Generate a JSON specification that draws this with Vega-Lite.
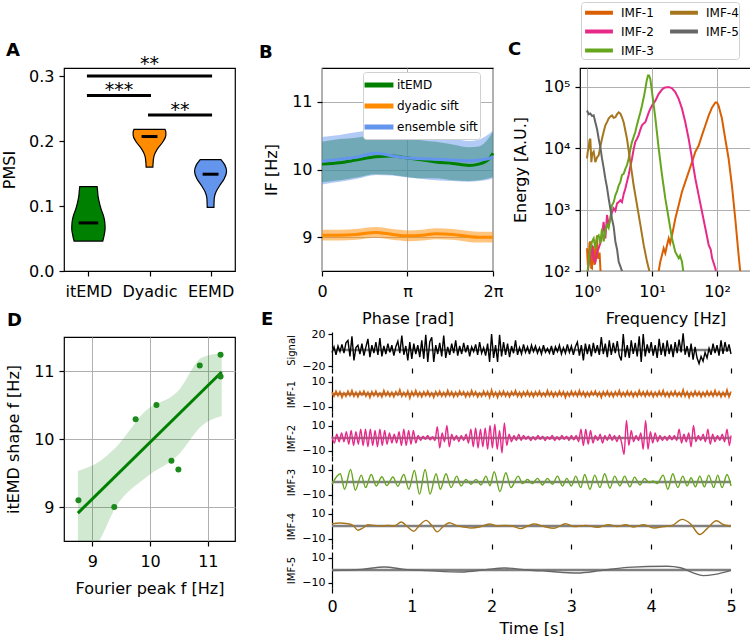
{
"$schema":"https://vega.github.io/schema/vega-lite/v6.json",
"padding":{"left":0,"top":0,"right":0,"bottom":0},
"background":"white",
"config":{
 "font":"DejaVu Sans",
 "view":{"stroke":"black","strokeWidth":1.2},
 "axis":{"labelFont":"DejaVu Sans","titleFont":"DejaVu Sans","labelColor":"black","titleColor":"black","tickColor":"black","domainColor":"black","labelFontSize":16,"titleFontSize":16,"titleFontWeight":"normal","tickSize":5,"tickWidth":1.2,"domainWidth":1.2,"gridColor":"#b0b0b0","gridWidth":1,"labelPadding":5,"titlePadding":6,"domain":false,"labelFlush":false,"labelOverlap":false},
 "title":{"anchor":"start","fontSize":18,"fontWeight":"bold","color":"black","baseline":"alphabetic","frame":"group"},
 "legend":{"labelFont":"DejaVu Sans"}
},
"datasets":{
"violin":[
{"g":"itEMD","y":0.046,"lo":0.765,"hi":1.235},{"g":"itEMD","y":0.055,"lo":0.743,"hi":1.257},{"g":"itEMD","y":0.065,"lo":0.727,"hi":1.273},{"g":"itEMD","y":0.075,"lo":0.732,"hi":1.268},{"g":"itEMD","y":0.085,"lo":0.754,"hi":1.246},{"g":"itEMD","y":0.095,"lo":0.792,"hi":1.208},{"g":"itEMD","y":0.105,"lo":0.82,"hi":1.18},{"g":"itEMD","y":0.115,"lo":0.842,"hi":1.158},{"g":"itEMD","y":0.125,"lo":0.852,"hi":1.148},{"g":"itEMD","y":0.13,"lo":0.858,"hi":1.142},
{"g":"Dyadic","y":0.16,"lo":1.945,"hi":2.055},{"g":"Dyadic","y":0.168,"lo":1.94,"hi":2.06},{"g":"Dyadic","y":0.178,"lo":1.923,"hi":2.077},{"g":"Dyadic","y":0.188,"lo":1.87,"hi":2.13},{"g":"Dyadic","y":0.199,"lo":1.78,"hi":2.22},{"g":"Dyadic","y":0.209,"lo":1.732,"hi":2.268},{"g":"Dyadic","y":0.214,"lo":1.732,"hi":2.268},{"g":"Dyadic","y":0.218,"lo":1.745,"hi":2.255},
{"g":"EEMD","y":0.098,"lo":2.945,"hi":3.055},{"g":"EEMD","y":0.112,"lo":2.94,"hi":3.06},{"g":"EEMD","y":0.122,"lo":2.91,"hi":3.09},{"g":"EEMD","y":0.132,"lo":2.847,"hi":3.153},{"g":"EEMD","y":0.142,"lo":2.776,"hi":3.224},{"g":"EEMD","y":0.153,"lo":2.738,"hi":3.262},{"g":"EEMD","y":0.163,"lo":2.765,"hi":3.235},{"g":"EEMD","y":0.1715,"lo":2.83,"hi":3.17}
],
"med":[{"x1":0.84,"x2":1.16,"y":0.074},{"x1":1.87,"x2":2.13,"y":0.207},{"x1":2.87,"x2":3.13,"y":0.149}],
"sig":[{"x1":1,"x2":3,"y":0.3,"xm":2,"ys":0.309,"lab":"**"},{"x1":1,"x2":2,"y":0.27,"xm":1.5,"ys":0.269,"lab":"***"},{"x1":2,"x2":3,"y":0.24,"xm":2.5,"ys":0.238,"lab":"**"}],
"phase":[
{"p":0,"m":"itEMD","v":10.08,"lo":9.81,"hi":10.41},{"p":0.65,"m":"itEMD","v":10.1,"lo":9.84,"hi":10.45},{"p":1.25,"m":"itEMD","v":10.14,"lo":9.88,"hi":10.47},{"p":1.98,"m":"itEMD","v":10.19,"lo":9.93,"hi":10.51},{"p":2.6,"m":"itEMD","v":10.2,"lo":9.92,"hi":10.49},{"p":3.14,"m":"itEMD","v":10.17,"lo":9.89,"hi":10.46},{"p":3.7,"m":"itEMD","v":10.14,"lo":9.87,"hi":10.43},{"p":4.18,"m":"itEMD","v":10.11,"lo":9.87,"hi":10.41},{"p":4.8,"m":"itEMD","v":10.09,"lo":9.84,"hi":10.37},{"p":5.4,"m":"itEMD","v":10.06,"lo":9.83,"hi":10.33},{"p":5.76,"m":"itEMD","v":10.08,"lo":9.84,"hi":10.34},{"p":6.12,"m":"itEMD","v":10.15,"lo":9.87,"hi":10.46},{"p":6.2832,"m":"itEMD","v":10.24,"lo":9.89,"hi":10.56},
{"p":0,"m":"ensemble sift","v":10.12,"lo":9.78,"hi":10.48},{"p":0.65,"m":"ensemble sift","v":10.15,"lo":9.82,"hi":10.51},{"p":1.25,"m":"ensemble sift","v":10.18,"lo":9.86,"hi":10.55},{"p":1.98,"m":"ensemble sift","v":10.24,"lo":9.92,"hi":10.58},{"p":2.6,"m":"ensemble sift","v":10.2,"lo":9.91,"hi":10.56},{"p":3.14,"m":"ensemble sift","v":10.17,"lo":9.88,"hi":10.53},{"p":3.7,"m":"ensemble sift","v":10.16,"lo":9.86,"hi":10.52},{"p":4.18,"m":"ensemble sift","v":10.15,"lo":9.84,"hi":10.5},{"p":4.8,"m":"ensemble sift","v":10.14,"lo":9.83,"hi":10.46},{"p":5.4,"m":"ensemble sift","v":10.13,"lo":9.82,"hi":10.42},{"p":5.76,"m":"ensemble sift","v":10.14,"lo":9.83,"hi":10.44},{"p":6.12,"m":"ensemble sift","v":10.16,"lo":9.85,"hi":10.52},{"p":6.2832,"m":"ensemble sift","v":10.19,"lo":9.87,"hi":10.58},
{"p":0,"m":"dyadic sift","v":9.03,"lo":8.95,"hi":9.11},{"p":0.65,"m":"dyadic sift","v":9.03,"lo":8.95,"hi":9.11},{"p":1.25,"m":"dyadic sift","v":9.04,"lo":8.96,"hi":9.12},{"p":1.98,"m":"dyadic sift","v":9.07,"lo":8.99,"hi":9.15},{"p":2.6,"m":"dyadic sift","v":9.04,"lo":8.96,"hi":9.12},{"p":3.14,"m":"dyadic sift","v":9.02,"lo":8.94,"hi":9.1},{"p":3.7,"m":"dyadic sift","v":9.03,"lo":8.95,"hi":9.11},{"p":4.18,"m":"dyadic sift","v":9.05,"lo":8.97,"hi":9.13},{"p":4.8,"m":"dyadic sift","v":9.04,"lo":8.96,"hi":9.12},{"p":5.4,"m":"dyadic sift","v":9.01,"lo":8.93,"hi":9.09},{"p":5.76,"m":"dyadic sift","v":9.0,"lo":8.92,"hi":9.08},{"p":6.12,"m":"dyadic sift","v":9.0,"lo":8.92,"hi":9.08},{"p":6.2832,"m":"dyadic sift","v":9.0,"lo":8.92,"hi":9.08}
],
"spec":[
{"k":"IMF-1","f":1.0,"e":234},{"k":"IMF-1","f":1.03,"e":126},{"k":"IMF-1","f":1.061,"e":141},{"k":"IMF-1","f":1.09,"e":282},{"k":"IMF-1","f":1.125,"e":302},{"k":"IMF-1","f":1.16,"e":112},{"k":"IMF-1","f":1.194,"e":110},{"k":"IMF-1","f":1.23,"e":251},{"k":"IMF-1","f":1.266,"e":234},{"k":"IMF-1","f":1.3,"e":126},{"k":"IMF-1","f":1.343,"e":141},{"k":"IMF-1","f":1.38,"e":282},{"k":"IMF-1","f":1.425,"e":380},{"k":"IMF-1","f":1.47,"e":158},{"k":"IMF-1","f":1.512,"e":182},{"k":"IMF-1","f":1.56,"e":200},{"k":"IMF-1","f":1.605,"e":110},{"k":"IMF-1","f":1.66,"e":63},{"k":"IMF-1","f":1.8,"e":32},{"k":"IMF-1","f":12.0,"e":40},{"k":"IMF-1","f":12.67,"e":100},{"k":"IMF-1","f":13.4,"e":141},{"k":"IMF-1","f":14.25,"e":182},{"k":"IMF-1","f":15.1,"e":234},{"k":"IMF-1","f":16.0,"e":195},{"k":"IMF-1","f":17.0,"e":263},{"k":"IMF-1","f":18.05,"e":339},{"k":"IMF-1","f":19.0,"e":282},{"k":"IMF-1","f":20.3,"e":380},{"k":"IMF-1","f":22.8,"e":708},{"k":"IMF-1","f":25.7,"e":1175},{"k":"IMF-1","f":28.9,"e":1950},{"k":"IMF-1","f":32.5,"e":2818},{"k":"IMF-1","f":36.6,"e":4074},{"k":"IMF-1","f":41.2,"e":5888},{"k":"IMF-1","f":46.4,"e":8710},{"k":"IMF-1","f":52.2,"e":10960},{"k":"IMF-1","f":58.8,"e":16220},{"k":"IMF-1","f":66.2,"e":23440},{"k":"IMF-1","f":74.5,"e":33880},{"k":"IMF-1","f":83.9,"e":45710},{"k":"IMF-1","f":94.4,"e":54950},{"k":"IMF-1","f":100,"e":54950},{"k":"IMF-1","f":105.5,"e":48980},{"k":"IMF-1","f":118.9,"e":30200},{"k":"IMF-1","f":133.7,"e":14130},{"k":"IMF-1","f":150.5,"e":6761},{"k":"IMF-1","f":169.4,"e":2455},{"k":"IMF-1","f":190.7,"e":708},{"k":"IMF-1","f":214.6,"e":182},{"k":"IMF-1","f":227,"e":100},{"k":"IMF-1","f":235,"e":63},
{"k":"IMF-2","f":1.0,"e":79},{"k":"IMF-2","f":1.06,"e":126},{"k":"IMF-2","f":1.125,"e":182},{"k":"IMF-2","f":1.194,"e":263},{"k":"IMF-2","f":1.266,"e":158},{"k":"IMF-2","f":1.343,"e":141},{"k":"IMF-2","f":1.43,"e":200},{"k":"IMF-2","f":1.512,"e":234},{"k":"IMF-2","f":1.6,"e":282},{"k":"IMF-2","f":1.7,"e":380},{"k":"IMF-2","f":1.8,"e":631},{"k":"IMF-2","f":1.915,"e":339},{"k":"IMF-2","f":2.03,"e":813},{"k":"IMF-2","f":2.15,"e":562},{"k":"IMF-2","f":2.28,"e":708},{"k":"IMF-2","f":2.42,"e":891},{"k":"IMF-2","f":2.57,"e":1047},{"k":"IMF-2","f":2.73,"e":955},{"k":"IMF-2","f":2.9,"e":1259},{"k":"IMF-2","f":3.07,"e":1318},{"k":"IMF-2","f":3.26,"e":1413},{"k":"IMF-2","f":3.45,"e":1318},{"k":"IMF-2","f":3.66,"e":1778},{"k":"IMF-2","f":3.89,"e":2188},{"k":"IMF-2","f":4.12,"e":2818},{"k":"IMF-2","f":4.37,"e":3631},{"k":"IMF-2","f":4.64,"e":5012},{"k":"IMF-2","f":4.92,"e":6761},{"k":"IMF-2","f":5.22,"e":9550},{"k":"IMF-2","f":5.53,"e":12590},{"k":"IMF-2","f":5.88,"e":14130},{"k":"IMF-2","f":6.23,"e":16220},{"k":"IMF-2","f":6.62,"e":19950},{"k":"IMF-2","f":7.01,"e":23440},{"k":"IMF-2","f":7.45,"e":25120},{"k":"IMF-2","f":7.89,"e":26300},{"k":"IMF-2","f":8.39,"e":31620},{"k":"IMF-2","f":8.91,"e":38020},{"k":"IMF-2","f":9.43,"e":43650},{"k":"IMF-2","f":10.0,"e":48980},{"k":"IMF-2","f":10.6,"e":53700},{"k":"IMF-2","f":11.26,"e":58880},{"k":"IMF-2","f":12.67,"e":75860},{"k":"IMF-2","f":14.25,"e":89130},{"k":"IMF-2","f":15.5,"e":95500},{"k":"IMF-2","f":17.0,"e":97720},{"k":"IMF-2","f":18.5,"e":97720},{"k":"IMF-2","f":20.3,"e":93330},{"k":"IMF-2","f":22.8,"e":81280},{"k":"IMF-2","f":25.7,"e":63100},{"k":"IMF-2","f":28.9,"e":43650},{"k":"IMF-2","f":32.5,"e":26300},{"k":"IMF-2","f":36.6,"e":14130},{"k":"IMF-2","f":41.2,"e":6761},{"k":"IMF-2","f":46.4,"e":3162},{"k":"IMF-2","f":52.2,"e":1698},{"k":"IMF-2","f":58.8,"e":912},{"k":"IMF-2","f":66.2,"e":490},{"k":"IMF-2","f":74.5,"e":263},{"k":"IMF-2","f":80,"e":224},{"k":"IMF-2","f":83.9,"e":162},{"k":"IMF-2","f":94.4,"e":110},{"k":"IMF-2","f":100,"e":79},
{"k":"IMF-3","f":1.0,"e":79},{"k":"IMF-3","f":1.1,"e":200},{"k":"IMF-3","f":1.194,"e":302},{"k":"IMF-3","f":1.266,"e":339},{"k":"IMF-3","f":1.343,"e":234},{"k":"IMF-3","f":1.43,"e":355},{"k":"IMF-3","f":1.512,"e":380},{"k":"IMF-3","f":1.6,"e":282},{"k":"IMF-3","f":1.7,"e":490},{"k":"IMF-3","f":1.8,"e":302},{"k":"IMF-3","f":1.915,"e":447},{"k":"IMF-3","f":2.03,"e":562},{"k":"IMF-3","f":2.15,"e":501},{"k":"IMF-3","f":2.28,"e":708},{"k":"IMF-3","f":2.42,"e":1175},{"k":"IMF-3","f":2.57,"e":1318},{"k":"IMF-3","f":2.73,"e":1698},{"k":"IMF-3","f":2.9,"e":1995},{"k":"IMF-3","f":3.07,"e":2455},{"k":"IMF-3","f":3.26,"e":2818},{"k":"IMF-3","f":3.45,"e":3631},{"k":"IMF-3","f":3.66,"e":3802},{"k":"IMF-3","f":3.89,"e":4571},{"k":"IMF-3","f":4.12,"e":5248},{"k":"IMF-3","f":4.37,"e":6761},{"k":"IMF-3","f":4.64,"e":9550},{"k":"IMF-3","f":4.92,"e":12590},{"k":"IMF-3","f":5.22,"e":15140},{"k":"IMF-3","f":5.53,"e":18200},{"k":"IMF-3","f":5.88,"e":23990},{"k":"IMF-3","f":6.23,"e":30200},{"k":"IMF-3","f":6.62,"e":38020},{"k":"IMF-3","f":7.01,"e":48980},{"k":"IMF-3","f":7.45,"e":66070},{"k":"IMF-3","f":7.89,"e":91200},{"k":"IMF-3","f":8.3,"e":125900},{"k":"IMF-3","f":8.67,"e":151400},{"k":"IMF-3","f":9.0,"e":151400},{"k":"IMF-3","f":9.43,"e":131800},{"k":"IMF-3","f":10.0,"e":81280},{"k":"IMF-3","f":10.6,"e":50120},{"k":"IMF-3","f":11.26,"e":30200},{"k":"IMF-3","f":12.67,"e":9772},{"k":"IMF-3","f":14.25,"e":3631},{"k":"IMF-3","f":16.0,"e":1514},{"k":"IMF-3","f":18.05,"e":708},{"k":"IMF-3","f":20.3,"e":339},{"k":"IMF-3","f":22.8,"e":204},{"k":"IMF-3","f":25.7,"e":162},{"k":"IMF-3","f":27.0,"e":178},{"k":"IMF-3","f":28.9,"e":141},{"k":"IMF-3","f":30.6,"e":89},
{"k":"IMF-4","f":1.0,"e":6761},{"k":"IMF-4","f":1.03,"e":8913},{"k":"IMF-4","f":1.061,"e":9772},{"k":"IMF-4","f":1.09,"e":13180},{"k":"IMF-4","f":1.125,"e":14130},{"k":"IMF-4","f":1.166,"e":5888},{"k":"IMF-4","f":1.2,"e":7943},{"k":"IMF-4","f":1.266,"e":8710},{"k":"IMF-4","f":1.343,"e":5888},{"k":"IMF-4","f":1.43,"e":7079},{"k":"IMF-4","f":1.512,"e":7586},{"k":"IMF-4","f":1.6,"e":10470},{"k":"IMF-4","f":1.7,"e":14130},{"k":"IMF-4","f":1.8,"e":18200},{"k":"IMF-4","f":1.915,"e":23440},{"k":"IMF-4","f":2.03,"e":26300},{"k":"IMF-4","f":2.15,"e":30200},{"k":"IMF-4","f":2.28,"e":32360},{"k":"IMF-4","f":2.42,"e":33880},{"k":"IMF-4","f":2.57,"e":30900},{"k":"IMF-4","f":2.73,"e":31620},{"k":"IMF-4","f":2.9,"e":35480},{"k":"IMF-4","f":3.07,"e":38020},{"k":"IMF-4","f":3.26,"e":36310},{"k":"IMF-4","f":3.45,"e":31620},{"k":"IMF-4","f":3.66,"e":26300},{"k":"IMF-4","f":4.12,"e":14130},{"k":"IMF-4","f":4.64,"e":5888},{"k":"IMF-4","f":5.22,"e":2455},{"k":"IMF-4","f":5.88,"e":1175},{"k":"IMF-4","f":6.62,"e":562},{"k":"IMF-4","f":7.45,"e":263},{"k":"IMF-4","f":8.39,"e":141},{"k":"IMF-4","f":9.1,"e":100},{"k":"IMF-4","f":9.8,"e":71},
{"k":"IMF-5","f":1.0,"e":40740},{"k":"IMF-5","f":1.06,"e":35480},{"k":"IMF-5","f":1.125,"e":36310},{"k":"IMF-5","f":1.2,"e":33110},{"k":"IMF-5","f":1.266,"e":33880},{"k":"IMF-5","f":1.343,"e":26300},{"k":"IMF-5","f":1.43,"e":19950},{"k":"IMF-5","f":1.512,"e":14130},{"k":"IMF-5","f":1.6,"e":10470},{"k":"IMF-5","f":1.7,"e":6761},{"k":"IMF-5","f":1.8,"e":4786},{"k":"IMF-5","f":1.915,"e":3162},{"k":"IMF-5","f":2.03,"e":2291},{"k":"IMF-5","f":2.15,"e":1514},{"k":"IMF-5","f":2.28,"e":1047},{"k":"IMF-5","f":2.42,"e":708},{"k":"IMF-5","f":2.57,"e":525},{"k":"IMF-5","f":2.73,"e":302},{"k":"IMF-5","f":2.9,"e":224},{"k":"IMF-5","f":3.07,"e":141},{"k":"IMF-5","f":3.25,"e":120},{"k":"IMF-5","f":3.45,"e":100},{"k":"IMF-5","f":3.66,"e":79}
],
"scat":[{"x":8.76,"y":9.1},{"x":9.38,"y":9.0},{"x":9.75,"y":10.29},{"x":10.11,"y":10.5},{"x":10.37,"y":9.68},{"x":10.49,"y":9.55},{"x":10.86,"y":11.08},{"x":11.22,"y":11.24},{"x":11.22,"y":10.92}],
"fit":[{"x":8.75,"y":8.91},{"x":11.24,"y":10.985}],
"band":[{"x":8.75,"lo":8.2,"hi":9.53},{"x":9.11,"lo":8.49,"hi":9.66},{"x":9.4,"lo":8.99,"hi":9.87},{"x":9.92,"lo":9.43,"hi":10.41},{"x":10.49,"lo":9.77,"hi":10.71},{"x":10.9,"lo":10.2,"hi":11.2},{"x":11.24,"lo":10.34,"hi":11.26}],
"ts25":[
{"t":0,"s":-3,"i":1.5},{"t":0.025,"s":4,"i":-2},{"t":0.05,"s":-6,"i":2.5},{"t":0.075,"s":5,"i":-1.5},{"t":0.1,"s":-2,"i":2},{"t":0.125,"s":7,"i":-3},{"t":0.15,"s":-4,"i":1},{"t":0.175,"s":9,"i":-2},
{"t":0.2,"s":12,"i":2.5},{"t":0.225,"s":-8,"i":-1.5},{"t":0.25,"s":17,"i":3},{"t":0.275,"s":-13,"i":-2},{"t":0.3,"s":3,"i":1.5},{"t":0.325,"s":6,"i":-2.5},{"t":0.35,"s":-5,"i":2},{"t":0.375,"s":8,"i":-1},
{"t":0.4,"s":-7,"i":2.5},{"t":0.425,"s":4,"i":-2},{"t":0.45,"s":14,"i":1.5},{"t":0.475,"s":-9,"i":-3},{"t":0.5,"s":6,"i":2},{"t":0.525,"s":-4,"i":-1.5},{"t":0.55,"s":10,"i":2.5},{"t":0.575,"s":-6,"i":-2},
{"t":0.6,"s":15,"i":1},{"t":0.625,"s":-8,"i":-2.5},{"t":0.65,"s":5,"i":3},{"t":0.675,"s":-5,"i":-1.5},{"t":0.7,"s":8,"i":2},{"t":0.725,"s":-3,"i":-2},{"t":0.75,"s":6,"i":1.5},{"t":0.775,"s":-7,"i":-2.5},
{"t":0.8,"s":4,"i":2},{"t":0.825,"s":11,"i":-1},{"t":0.85,"s":-4,"i":3.5},{"t":0.875,"s":18,"i":-2},{"t":0.9,"s":-6,"i":1.5},{"t":0.925,"s":5,"i":-2},{"t":0.95,"s":-13,"i":2.5},{"t":0.975,"s":10,"i":-3.5},
{"t":1.0,"s":-11,"i":2},{"t":1.025,"s":8,"i":-1.5},{"t":1.05,"s":-5,"i":3},{"t":1.075,"s":6,"i":-2},{"t":1.1,"s":-9,"i":1.5},{"t":1.125,"s":12,"i":-2.5},{"t":1.15,"s":-11,"i":2},{"t":1.175,"s":19,"i":-1.5},
{"t":1.2,"s":-15,"i":2.5},{"t":1.225,"s":10,"i":-2},{"t":1.25,"s":16,"i":1},{"t":1.275,"s":-15,"i":-3},{"t":1.3,"s":6,"i":2},{"t":1.325,"s":-5,"i":-1.5},{"t":1.35,"s":9,"i":2.5},{"t":1.375,"s":-8,"i":-2},
{"t":1.4,"s":18,"i":1.5},{"t":1.425,"s":-10,"i":-2},{"t":1.45,"s":4,"i":3},{"t":1.475,"s":-6,"i":-1.5},{"t":1.5,"s":8,"i":2},{"t":1.525,"s":-4,"i":-2.5},{"t":1.55,"s":12,"i":1.5},{"t":1.575,"s":-7,"i":-2},
{"t":1.6,"s":5,"i":2.5},{"t":1.625,"s":-5,"i":-1},{"t":1.65,"s":9,"i":2},{"t":1.675,"s":-3,"i":-2.5},{"t":1.7,"s":6,"i":1.5},{"t":1.725,"s":-8,"i":-2},{"t":1.75,"s":4,"i":3},{"t":1.775,"s":-2,"i":-1.5},
{"t":1.8,"s":7,"i":2},{"t":1.825,"s":-6,"i":-2.5},{"t":1.85,"s":10,"i":1},{"t":1.875,"s":-4,"i":-2},{"t":1.9,"s":3,"i":2.5},{"t":1.925,"s":-7,"i":-1.5},{"t":1.95,"s":8,"i":2},{"t":1.975,"s":-15,"i":-3},
{"t":2.0,"s":20,"i":3.5},{"t":2.025,"s":-10,"i":-2},{"t":2.05,"s":6,"i":1.5},{"t":2.075,"s":-15,"i":-3},{"t":2.1,"s":19,"i":2},{"t":2.125,"s":-8,"i":-1.5},{"t":2.15,"s":10,"i":2.5},{"t":2.175,"s":-6,"i":-2},
{"t":2.2,"s":8,"i":1.5},{"t":2.225,"s":-9,"i":-2.5},{"t":2.25,"s":5,"i":2},{"t":2.275,"s":-4,"i":-1},{"t":2.3,"s":12,"i":3},{"t":2.325,"s":-6,"i":-2},{"t":2.35,"s":3,"i":1.5},{"t":2.375,"s":-5,"i":-2.5},
{"t":2.4,"s":7,"i":2},{"t":2.425,"s":-3,"i":-1.5},{"t":2.45,"s":4,"i":2.5},{"t":2.475,"s":-5,"i":-2},{"t":2.5,"s":6,"i":1.5},{"t":2.525,"s":-2,"i":-2.5},{"t":2.55,"s":5,"i":2},{"t":2.575,"s":-4,"i":-1.5},
{"t":2.6,"s":3,"i":2.5},{"t":2.625,"s":-5,"i":-2},{"t":2.65,"s":6,"i":1},{"t":2.675,"s":-3,"i":-2},{"t":2.7,"s":2,"i":3},{"t":2.725,"s":-4,"i":-1.5},{"t":2.75,"s":5,"i":2},{"t":2.775,"s":-6,"i":-2.5},
{"t":2.8,"s":4,"i":1.5},{"t":2.825,"s":-2,"i":-2},{"t":2.85,"s":6,"i":2.5},{"t":2.875,"s":-5,"i":-1.5},{"t":2.9,"s":3,"i":2},{"t":2.925,"s":-4,"i":-3},{"t":2.95,"s":7,"i":1.5},{"t":2.975,"s":-3,"i":-2},
{"t":3.0,"s":5,"i":2.5},{"t":3.025,"s":-6,"i":-1.5},{"t":3.05,"s":4,"i":2},{"t":3.075,"s":10,"i":-2},{"t":3.1,"s":-7,"i":3},{"t":3.125,"s":6,"i":-1.5},{"t":3.15,"s":-13,"i":2},{"t":3.175,"s":8,"i":-2.5},
{"t":3.2,"s":-5,"i":1.5},{"t":3.225,"s":7,"i":-2},{"t":3.25,"s":-8,"i":2},{"t":3.275,"s":9,"i":-1},{"t":3.3,"s":-4,"i":2.5},{"t":3.325,"s":6,"i":-2},{"t":3.35,"s":-6,"i":1.5},{"t":3.375,"s":16,"i":-3},
{"t":3.4,"s":-5,"i":2},{"t":3.425,"s":8,"i":-1.5},{"t":3.45,"s":-9,"i":2.5},{"t":3.475,"s":12,"i":-2},{"t":3.5,"s":-6,"i":1.5},{"t":3.525,"s":9,"i":-2.5},{"t":3.55,"s":-4,"i":2},{"t":3.575,"s":11,"i":-1.5},
{"t":3.6,"s":-7,"i":3},{"t":3.625,"s":-13,"i":-2},{"t":3.65,"s":20,"i":1.5},{"t":3.675,"s":-9,"i":-2},{"t":3.7,"s":6,"i":2.5},{"t":3.725,"s":-10,"i":-1.5},{"t":3.75,"s":12,"i":2},{"t":3.775,"s":-5,"i":-2.5},
{"t":3.8,"s":9,"i":1.5},{"t":3.825,"s":-8,"i":-2},{"t":3.85,"s":17,"i":3},{"t":3.875,"s":-15,"i":-1.5},{"t":3.9,"s":20,"i":2},{"t":3.925,"s":-8,"i":-2},{"t":3.95,"s":7,"i":2.5},{"t":3.975,"s":-4,"i":-1.5},
{"t":4.0,"s":10,"i":2},{"t":4.025,"s":-7,"i":-2.5},{"t":4.05,"s":6,"i":1.5},{"t":4.075,"s":-10,"i":-2},{"t":4.1,"s":14,"i":2.5},{"t":4.125,"s":-6,"i":-1.5},{"t":4.15,"s":9,"i":3},{"t":4.175,"s":-8,"i":-2},
{"t":4.2,"s":12,"i":1.5},{"t":4.225,"s":-5,"i":-2.5},{"t":4.25,"s":7,"i":2},{"t":4.275,"s":-9,"i":-1.5},{"t":4.3,"s":10,"i":2.5},{"t":4.325,"s":-4,"i":-2},{"t":4.35,"s":13,"i":1.5},{"t":4.375,"s":-3,"i":-2},
{"t":4.4,"s":21,"i":3.5},{"t":4.425,"s":-6,"i":-2},{"t":4.45,"s":5,"i":2},{"t":4.475,"s":-9,"i":-3},{"t":4.5,"s":8,"i":1.5},{"t":4.525,"s":-12,"i":-2},{"t":4.55,"s":4,"i":2.5},{"t":4.575,"s":-10,"i":-1.5},
{"t":4.6,"s":-17,"i":2},{"t":4.625,"s":-8,"i":-2.5},{"t":4.65,"s":-14,"i":1.5},{"t":4.675,"s":-3,"i":-2},{"t":4.7,"s":-10,"i":2.5},{"t":4.725,"s":2,"i":-1.5},{"t":4.75,"s":-6,"i":2},{"t":4.775,"s":8,"i":-2},
{"t":4.8,"s":-4,"i":3},{"t":4.825,"s":6,"i":-1.5},{"t":4.85,"s":-7,"i":2},{"t":4.875,"s":12,"i":-2.5},{"t":4.9,"s":-5,"i":1.5},{"t":4.925,"s":10,"i":-2},{"t":4.95,"s":-2,"i":3.5},{"t":4.975,"s":7,"i":-2.5},
{"t":5.0,"s":-5,"i":2}
],
"imf2":[
{"t":0,"v":1},{"t":0.03,"v":-4},{"t":0.06,"v":3},{"t":0.09,"v":-3},{"t":0.12,"v":4},{"t":0.15,"v":-3},{"t":0.18,"v":5},{"t":0.21,"v":-5},{"t":0.24,"v":6},{"t":0.27,"v":-6},{"t":0.3,"v":5},{"t":0.33,"v":-5},{"t":0.36,"v":7},{"t":0.39,"v":-6},{"t":0.42,"v":7},{"t":0.45,"v":-7},{"t":0.48,"v":7},{"t":0.51,"v":-6},{"t":0.54,"v":6},{"t":0.57,"v":-7},{"t":0.6,"v":7},{"t":0.63,"v":-6},{"t":0.66,"v":6},{"t":0.69,"v":-5},{"t":0.72,"v":4},{"t":0.75,"v":-4},{"t":0.78,"v":3},{"t":0.81,"v":-4},{"t":0.84,"v":5},{"t":0.87,"v":-6},{"t":0.9,"v":7},{"t":0.93,"v":-6},{"t":0.96,"v":6},{"t":0.99,"v":-5},{"t":1.02,"v":6},{"t":1.05,"v":-4},{"t":1.08,"v":2},{"t":1.11,"v":-2},{"t":1.14,"v":1.5},{"t":1.17,"v":-1},{"t":1.2,"v":2},{"t":1.23,"v":-1.5},{"t":1.26,"v":1},{"t":1.29,"v":-2},{"t":1.32,"v":9},{"t":1.35,"v":-8},{"t":1.38,"v":4},{"t":1.41,"v":-3},{"t":1.44,"v":10},{"t":1.47,"v":-7},{"t":1.5,"v":3},{"t":1.53,"v":-2},{"t":1.56,"v":2},{"t":1.59,"v":-3},{"t":1.62,"v":2},{"t":1.65,"v":-2},{"t":1.68,"v":3},{"t":1.71,"v":-4},{"t":1.74,"v":7},{"t":1.77,"v":-7},{"t":1.8,"v":8},{"t":1.83,"v":-8},{"t":1.86,"v":7},{"t":1.89,"v":-7},{"t":1.92,"v":8},{"t":1.95,"v":-9},{"t":1.98,"v":10},{"t":2.01,"v":-8},{"t":2.04,"v":11},{"t":2.07,"v":-9},{"t":2.1,"v":6},{"t":2.13,"v":-12},{"t":2.16,"v":12},{"t":2.19,"v":-6},{"t":2.22,"v":3},{"t":2.25,"v":-3},{"t":2.28,"v":2},{"t":2.31,"v":-2},{"t":2.34,"v":3},{"t":2.37,"v":-2},{"t":2.4,"v":2},{"t":2.43,"v":-1},{"t":2.46,"v":1.5},{"t":2.49,"v":-2},{"t":2.52,"v":1},{"t":2.55,"v":-1.5},{"t":2.58,"v":2},{"t":2.61,"v":-1},{"t":2.64,"v":1.5},{"t":2.67,"v":-2},{"t":2.7,"v":1},{"t":2.73,"v":-1},{"t":2.76,"v":2},{"t":2.79,"v":-2},{"t":2.82,"v":1},{"t":2.85,"v":-1.5},{"t":2.88,"v":2},{"t":2.91,"v":-1},{"t":2.94,"v":1.5},{"t":2.97,"v":-2},{"t":3.0,"v":2},{"t":3.03,"v":-1.5},{"t":3.06,"v":2},{"t":3.09,"v":-3},{"t":3.12,"v":7},{"t":3.15,"v":-6},{"t":3.18,"v":7},{"t":3.21,"v":-5},{"t":3.24,"v":6},{"t":3.27,"v":-4},{"t":3.3,"v":2},{"t":3.33,"v":-2},{"t":3.36,"v":3},{"t":3.39,"v":-4},{"t":3.42,"v":2},{"t":3.45,"v":-2},{"t":3.48,"v":3},{"t":3.51,"v":-2},{"t":3.54,"v":2},{"t":3.57,"v":-3},{"t":3.6,"v":2},{"t":3.63,"v":-4},{"t":3.66,"v":-13},{"t":3.69,"v":14},{"t":3.72,"v":-6},{"t":3.75,"v":6},{"t":3.78,"v":-3},{"t":3.81,"v":2},{"t":3.84,"v":-2},{"t":3.87,"v":4},{"t":3.9,"v":-9},{"t":3.93,"v":14},{"t":3.96,"v":-9},{"t":3.99,"v":5},{"t":4.02,"v":-4},{"t":4.05,"v":4},{"t":4.08,"v":-3},{"t":4.11,"v":2},{"t":4.14,"v":-2},{"t":4.17,"v":1.5},{"t":4.2,"v":-2},{"t":4.23,"v":2},{"t":4.26,"v":-1.5},{"t":4.29,"v":2},{"t":4.32,"v":-2},{"t":4.35,"v":7},{"t":4.38,"v":-4},{"t":4.41,"v":3},{"t":4.44,"v":-3},{"t":4.47,"v":4},{"t":4.5,"v":-7},{"t":4.53,"v":10},{"t":4.56,"v":-3},{"t":4.59,"v":2},{"t":4.62,"v":-2},{"t":4.65,"v":3},{"t":4.68,"v":-3},{"t":4.71,"v":7},{"t":4.74,"v":-5},{"t":4.77,"v":3},{"t":4.8,"v":-3},{"t":4.83,"v":2},{"t":4.86,"v":-2},{"t":4.89,"v":3},{"t":4.92,"v":-3},{"t":4.95,"v":7},{"t":4.98,"v":-6},{"t":5.0,"v":2}
],
"imf3":[
{"t":0,"v":-1.8},{"t":0.104,"v":6.6},{"t":0.158,"v":-5.8},{"t":0.233,"v":10},{"t":0.292,"v":-6.6},{"t":0.367,"v":5.5},{"t":0.421,"v":-4.5},{"t":0.492,"v":6},{"t":0.554,"v":-3.2},{"t":0.625,"v":4.2},{"t":0.688,"v":-2.9},{"t":0.763,"v":4},{"t":0.825,"v":-3.4},{"t":0.9,"v":6},{"t":0.963,"v":-5.8},{"t":1.033,"v":9.2},{"t":1.096,"v":-9.7},{"t":1.167,"v":10},{"t":1.229,"v":-9.7},{"t":1.304,"v":6.6},{"t":1.358,"v":-5.8},{"t":1.429,"v":6.6},{"t":1.492,"v":-4.5},{"t":1.563,"v":4.7},{"t":1.617,"v":-3.2},{"t":1.679,"v":2.1},{"t":1.742,"v":-1.8},{"t":1.804,"v":2.1},{"t":1.867,"v":-2.4},{"t":1.929,"v":4.7},{"t":1.979,"v":-3},{"t":2.033,"v":8.2},{"t":2.104,"v":-7.6},{"t":2.179,"v":7.4},{"t":2.242,"v":-4.5},{"t":2.333,"v":4.7},{"t":2.388,"v":-1.3},{"t":2.45,"v":2.1},{"t":2.51,"v":-1.3},{"t":2.575,"v":2.9},{"t":2.638,"v":-2.4},{"t":2.7,"v":2.9},{"t":2.763,"v":-1.8},{"t":2.825,"v":4.7},{"t":2.888,"v":-3.2},{"t":2.942,"v":2.9},{"t":3.0,"v":-3.2},{"t":3.054,"v":4.7},{"t":3.117,"v":-4.5},{"t":3.167,"v":6},{"t":3.233,"v":-5.8},{"t":3.292,"v":5.5},{"t":3.358,"v":-4.5},{"t":3.417,"v":6.6},{"t":3.483,"v":-5},{"t":3.542,"v":4.7},{"t":3.608,"v":-3.2},{"t":3.667,"v":4.7},{"t":3.733,"v":-3.9},{"t":3.792,"v":3.9},{"t":3.858,"v":-2.4},{"t":3.917,"v":2.9},{"t":3.971,"v":-0.5},{"t":4.025,"v":0.8},{"t":4.075,"v":-1.3},{"t":4.15,"v":5.5},{"t":4.208,"v":-5.8},{"t":4.271,"v":6.6},{"t":4.333,"v":-4.5},{"t":4.396,"v":4.7},{"t":4.45,"v":-3.2},{"t":4.5,"v":3.4},{"t":4.554,"v":-3.9},{"t":4.608,"v":4.7},{"t":4.667,"v":-3.9},{"t":4.721,"v":5.5},{"t":4.783,"v":-4.5},{"t":4.833,"v":5.5},{"t":4.888,"v":-4.5},{"t":4.95,"v":6},{"t":5.0,"v":-3.2}
],
"imf4":[
{"t":0,"v":1.8},{"t":0.096,"v":2.4},{"t":0.2,"v":1.8},{"t":0.263,"v":0.5},{"t":0.325,"v":-3.4},{"t":0.388,"v":-1.6},{"t":0.45,"v":1},{"t":0.533,"v":0.5},{"t":0.617,"v":0},{"t":0.7,"v":0.5},{"t":0.783,"v":0},{"t":0.867,"v":3.2},{"t":0.95,"v":-0.8},{"t":1.025,"v":-4.2},{"t":1.096,"v":0.5},{"t":1.179,"v":4.5},{"t":1.25,"v":0.5},{"t":1.317,"v":-4.7},{"t":1.388,"v":-0.8},{"t":1.471,"v":2.6},{"t":1.554,"v":0.5},{"t":1.658,"v":-0.8},{"t":1.742,"v":-1.6},{"t":1.846,"v":-0.8},{"t":1.971,"v":1.6},{"t":2.075,"v":0},{"t":2.158,"v":0.5},{"t":2.263,"v":0},{"t":2.367,"v":-2.1},{"t":2.45,"v":0},{"t":2.533,"v":1.6},{"t":2.658,"v":-0.5},{"t":2.783,"v":-1.8},{"t":2.929,"v":1.8},{"t":3.033,"v":-0.5},{"t":3.179,"v":0.5},{"t":3.325,"v":-1},{"t":3.471,"v":1},{"t":3.575,"v":-0.5},{"t":3.679,"v":1},{"t":3.783,"v":-0.8},{"t":3.908,"v":1},{"t":4.033,"v":-1.6},{"t":4.158,"v":-0.5},{"t":4.263,"v":0.5},{"t":4.388,"v":5.3},{"t":4.492,"v":1.8},{"t":4.608,"v":-6.8},{"t":4.7,"v":-2.1},{"t":4.817,"v":4.2},{"t":4.908,"v":1},{"t":5.0,"v":0}
],
"imf5":[
{"t":0,"v":-0.5},{"t":0.367,"v":0.5},{"t":0.658,"v":2.4},{"t":0.908,"v":0.5},{"t":1.2,"v":-0.5},{"t":1.617,"v":-1.6},{"t":1.95,"v":0.5},{"t":2.158,"v":1.6},{"t":2.45,"v":0},{"t":2.7,"v":-1},{"t":3.075,"v":-2.4},{"t":3.367,"v":-0.5},{"t":3.7,"v":2.1},{"t":4.2,"v":3},{"t":4.367,"v":1.8},{"t":4.533,"v":-2.5},{"t":4.65,"v":-4.5},{"t":4.8,"v":-3.5},{"t":5.0,"v":-0.3}
]
},
"resolve":{"scale":{"color":"independent","x":"independent","y":"independent"},"legend":{"color":"independent"}},
"bounds":"full",
"spacing":-16,
"vconcat":[
{
"bounds":"flush","spacing":87,
"resolve":{"scale":{"color":"independent","x":"independent","y":"independent"},"legend":{"color":"independent"}},
"hconcat":[
{
"width":171,"height":203,
"title":{"text":"A","dx":-58,"offset":-5},
"layer":[
{"data":{"name":"violin"},"mark":{"type":"area","orient":"horizontal","stroke":"black","strokeWidth":1.2,"interpolate":"monotone","opacity":1},
 "encoding":{
  "y":{"field":"y","type":"quantitative","title":"PMSI","scale":{"domain":[0,0.3125],"nice":false,"zero":false},"axis":{"values":[0,0.1,0.2,0.3],"format":".1f","grid":false,"titlePadding":11}},
  "x":{"field":"lo","type":"quantitative","title":null,"scale":{"domain":[0.6,3.4],"nice":false,"zero":false},"axis":{"values":[1,2,3],"labelExpr":"datum.value == 1 ? 'itEMD' : datum.value == 2 ? 'Dyadic' : 'EEMD'","grid":false,"labelPadding":7}},
  "x2":{"field":"hi"},
  "color":{"field":"g","type":"nominal","scale":{"domain":["itEMD","Dyadic","EEMD"],"range":["green","darkorange","cornflowerblue"]},"legend":null}}},
{"data":{"name":"med"},"mark":{"type":"rule","color":"black","strokeWidth":3},
 "encoding":{"x":{"field":"x1","type":"quantitative","title":null},"x2":{"field":"x2"},"y":{"field":"y","type":"quantitative","title":"PMSI"}}},
{"data":{"name":"sig"},"mark":{"type":"rule","color":"black","strokeWidth":3,"strokeCap":"square"},
 "encoding":{"x":{"field":"x1","type":"quantitative","title":null},"x2":{"field":"x2"},"y":{"field":"y","type":"quantitative","title":"PMSI"}}},
{"data":{"name":"sig"},"mark":{"type":"text","fontSize":19,"baseline":"alphabetic","align":"center","color":"black"},
 "encoding":{"x":{"field":"xm","type":"quantitative","title":null},"y":{"field":"ys","type":"quantitative","title":"PMSI"},"text":{"field":"lab"}}}
]
},
{
"width":171,"height":203,
"title":{"text":"B","dx":-63,"offset":6},
"data":{"name":"phase"},
"layer":[
{"transform":[{"filter":"datum.m == 'itEMD'"}],"mark":{"type":"area","color":"green","opacity":0.5,"interpolate":"monotone"},
 "encoding":{"x":{"field":"p","type":"quantitative","title":"Phase [rad]","scale":{"domain":[0,6.2832],"nice":false,"zero":false},"axis":{"values":[0,3.14159,6.28318],"labelExpr":"datum.value < 1 ? '0' : datum.value < 4 ? 'π' : '2π'","grid":true,"labelPadding":7,"titlePadding":11}},
  "y":{"field":"lo","type":"quantitative","title":"IF [Hz]","scale":{"domain":[8.5,11.5],"nice":false,"zero":false},"axis":{"values":[9,10,11],"format":"d","grid":true,"titlePadding":12}},
  "y2":{"field":"hi"}}},
{"transform":[{"filter":"datum.m == 'ensemble sift'"}],"mark":{"type":"area","color":"cornflowerblue","opacity":0.5,"interpolate":"monotone"},
 "encoding":{"x":{"field":"p","type":"quantitative","title":"Phase [rad]"},"y":{"field":"lo","type":"quantitative","title":"IF [Hz]"},"y2":{"field":"hi"}}},
{"transform":[{"filter":"datum.m == 'dyadic sift'"}],"mark":{"type":"area","color":"darkorange","opacity":0.5,"interpolate":"monotone"},
 "encoding":{"x":{"field":"p","type":"quantitative","title":"Phase [rad]"},"y":{"field":"lo","type":"quantitative","title":"IF [Hz]"},"y2":{"field":"hi"}}},
{"mark":{"type":"line","strokeWidth":3,"interpolate":"monotone"},
 "encoding":{"x":{"field":"p","type":"quantitative","title":"Phase [rad]"},"y":{"field":"v","type":"quantitative","title":"IF [Hz]"},
  "color":{"field":"m","type":"nominal","scale":{"domain":["itEMD","dyadic sift","ensemble sift"],"range":["green","darkorange","cornflowerblue"]},
   "legend":{"orient":"none","legendX":41,"legendY":4,"title":null,"columns":1,"symbolType":"M-1.7,0H1.7","symbolStrokeWidth":5,"symbolSize":289,"symbolOffset":3,"labelFontSize":12,"labelColor":"black","strokeColor":"#d0d0d0","fillColor":"white","padding":2,"cornerRadius":3,"rowPadding":-2,"labelOffset":7}}}}
]
},
{
"width":171,"height":203,
"title":{"text":"C","dx":-72,"offset":-57},
"data":{"name":"spec"},
"mark":{"type":"line","strokeWidth":2,"clip":true},
"encoding":{
 "x":{"field":"f","type":"quantitative","title":"Frequency [Hz]","scale":{"type":"log","domain":[0.78,333],"nice":false},"axis":{"values":[1,10,100],"labelExpr":"datum.value < 5 ? '10⁰' : datum.value < 50 ? '10¹' : '10²'","grid":true,"labelPadding":7,"titlePadding":11}},
 "y":{"field":"e","type":"quantitative","title":"Energy [A.U.]","scale":{"type":"log","domain":[100,200000],"nice":false},"axis":{"values":[100,1000,10000,100000],"labelExpr":"datum.value < 500 ? '10²' : datum.value < 5000 ? '10³' : datum.value < 50000 ? '10⁴' : '10⁵'","grid":true,"titlePadding":15}},
 "color":{"field":"k","type":"nominal","scale":{"domain":["IMF-1","IMF-2","IMF-3","IMF-4","IMF-5"],"range":["#d95f02","#e7298a","#66a61e","#a6761d","#666666"]},
  "legend":{"orient":"none","legendX":1,"legendY":-66,"title":null,"columns":2,"symbolType":"M-1.64,0H1.64","symbolStrokeWidth":4,"symbolSize":289,"symbolOffset":7.5,"labelFontSize":12,"labelColor":"black","strokeColor":"#d0d0d0","fillColor":"white","padding":0,"cornerRadius":3,"rowPadding":0,"columnPadding":8,"labelOffset":11.5}}
}
}
]
},
{
"bounds":"full","spacing":25,
"resolve":{"scale":{"color":"independent","x":"independent","y":"independent"},"legend":{"color":"independent"}},
"hconcat":[
{
"bounds":"flush","spacing":4,
"vconcat":[
{"width":171,"height":1,"view":{"stroke":null},"data":{"values":[]},"mark":"point"},
{
"width":171,"height":204,
"title":{"text":"D","dx":-57,"offset":7},
"layer":[
{"data":{"name":"band"},"mark":{"type":"area","color":"green","opacity":0.18,"clip":true,"interpolate":"monotone"},
 "encoding":{"x":{"field":"x","type":"quantitative","title":"Fourier peak f [Hz]","scale":{"domain":[8.51,11.47],"nice":false,"zero":false},"axis":{"values":[9,10,11],"format":"d","grid":true,"labelPadding":7,"titlePadding":11}},
  "y":{"field":"lo","type":"quantitative","title":"itEMD shape f [Hz]","scale":{"domain":[8.5,11.5],"nice":false,"zero":false},"axis":{"values":[9,10,11],"format":"d","grid":true,"titlePadding":12}},
  "y2":{"field":"hi"}}},
{"data":{"name":"fit"},"mark":{"type":"line","color":"green","strokeWidth":3},
 "encoding":{"x":{"field":"x","type":"quantitative","title":"Fourier peak f [Hz]"},"y":{"field":"y","type":"quantitative","title":"itEMD shape f [Hz]"}}},
{"data":{"name":"scat"},"mark":{"type":"circle","color":"#1a8a1a","size":36,"opacity":1},
 "encoding":{"x":{"field":"x","type":"quantitative","title":"Fourier peak f [Hz]"},"y":{"field":"y","type":"quantitative","title":"itEMD shape f [Hz]"}}}
]
}
]
},
{
"bounds":"flush","spacing":8,
"resolve":{"scale":{"x":"independent","y":"independent"}},
"vconcat":[
{
"width":399,"height":36,"view":{"stroke":null},
"title":{"text":"E","dx":-71,"offset":-1},
"layer":[
{"data":{"values":[{}]},"mark":{"type":"rule","color":"#808080","strokeWidth":2.5},"encoding":{"y":{"datum":0}}},
{"data":{"name":"ts25"},"mark":{"type":"line","color":"black","strokeWidth":1.4},
 "encoding":{"x":{"field":"t","type":"quantitative","title":null,"scale":{"domain":[0,5],"nice":false},"axis":{"values":[0,1,2,3,4,5],"labels":false,"domain":false,"ticks":true,"grid":false}},
  "y":{"field":"s","type":"quantitative","title":"Signal","scale":{"domain":[-22.5,22.5],"nice":false},"axis":{"values":[-20,0,20],"titleFontSize":10,"labelFontSize":11,"tickSize":4,"domain":true,"grid":false,"labelPadding":3,"titlePadding":5}}}}
]
},
{
"width":399,"height":36,"view":{"stroke":null},
"layer":[
{"data":{"values":[{}]},"mark":{"type":"rule","color":"#808080","strokeWidth":2.5},"encoding":{"y":{"datum":0}}},
{"data":{"name":"ts25"},"mark":{"type":"line","color":"#d95f02","strokeWidth":1.4},
 "encoding":{"x":{"field":"t","type":"quantitative","title":null,"scale":{"domain":[0,5],"nice":false},"axis":{"values":[0,1,2,3,4,5],"labels":false,"domain":false,"ticks":true,"grid":false}},
  "y":{"field":"i","type":"quantitative","title":"IMF-1","scale":{"domain":[-14.4,14.4],"nice":false},"axis":{"values":[-10,0,10],"titleFontSize":10,"labelFontSize":11,"tickSize":4,"domain":true,"grid":false,"labelPadding":3,"titlePadding":5}}}}
]
},
{
"width":399,"height":36,"view":{"stroke":null},
"layer":[
{"data":{"values":[{}]},"mark":{"type":"rule","color":"#808080","strokeWidth":2.5},"encoding":{"y":{"datum":0}}},
{"data":{"name":"imf2"},"mark":{"type":"line","color":"#e7298a","strokeWidth":1.4,"interpolate":"monotone"},
 "encoding":{"x":{"field":"t","type":"quantitative","title":null,"scale":{"domain":[0,5],"nice":false},"axis":{"values":[0,1,2,3,4,5],"labels":false,"domain":false,"ticks":true,"grid":false}},
  "y":{"field":"v","type":"quantitative","title":"IMF-2","scale":{"domain":[-14.4,14.4],"nice":false},"axis":{"values":[-10,0,10],"titleFontSize":10,"labelFontSize":11,"tickSize":4,"domain":true,"grid":false,"labelPadding":3,"titlePadding":5}}}}
]
},
{
"width":399,"height":36,"view":{"stroke":null},
"layer":[
{"data":{"values":[{}]},"mark":{"type":"rule","color":"#808080","strokeWidth":2.5},"encoding":{"y":{"datum":0}}},
{"data":{"name":"imf3"},"mark":{"type":"line","color":"#66a61e","strokeWidth":1.4,"interpolate":"monotone"},
 "encoding":{"x":{"field":"t","type":"quantitative","title":null,"scale":{"domain":[0,5],"nice":false},"axis":{"values":[0,1,2,3,4,5],"labels":false,"domain":false,"ticks":true,"grid":false}},
  "y":{"field":"v","type":"quantitative","title":"IMF-3","scale":{"domain":[-14.4,14.4],"nice":false},"axis":{"values":[-10,0,10],"titleFontSize":10,"labelFontSize":11,"tickSize":4,"domain":true,"grid":false,"labelPadding":3,"titlePadding":5}}}}
]
},
{
"width":399,"height":36,"view":{"stroke":null},
"layer":[
{"data":{"values":[{}]},"mark":{"type":"rule","color":"#808080","strokeWidth":2.5},"encoding":{"y":{"datum":0}}},
{"data":{"name":"imf4"},"mark":{"type":"line","color":"#a6761d","strokeWidth":1.4,"interpolate":"monotone"},
 "encoding":{"x":{"field":"t","type":"quantitative","title":null,"scale":{"domain":[0,5],"nice":false},"axis":{"values":[0,1,2,3,4,5],"labels":false,"domain":false,"ticks":true,"grid":false}},
  "y":{"field":"v","type":"quantitative","title":"IMF-4","scale":{"domain":[-14.4,14.4],"nice":false},"axis":{"values":[-10,0,10],"titleFontSize":10,"labelFontSize":11,"tickSize":4,"domain":true,"grid":false,"labelPadding":3,"titlePadding":5}}}}
]
},
{
"width":399,"height":36,"view":{"stroke":null},
"layer":[
{"data":{"values":[{}]},"mark":{"type":"rule","color":"#808080","strokeWidth":2.5},"encoding":{"y":{"datum":0}}},
{"data":{"name":"imf5"},"mark":{"type":"line","color":"#666666","strokeWidth":1.4,"interpolate":"monotone"},
 "encoding":{"x":{"field":"t","type":"quantitative","title":"Time [s]","scale":{"domain":[0,5],"nice":false},"axis":{"values":[0,1,2,3,4,5],"format":"d","labels":true,"domain":false,"ticks":true,"grid":false,"labelPadding":5}},
  "y":{"field":"v","type":"quantitative","title":"IMF-5","scale":{"domain":[-14.4,14.4],"nice":false},"axis":{"values":[-10,0,10],"titleFontSize":10,"labelFontSize":11,"tickSize":4,"domain":true,"grid":false,"labelPadding":3,"titlePadding":5}}}}
]
}
]
}
]
}
]
}
